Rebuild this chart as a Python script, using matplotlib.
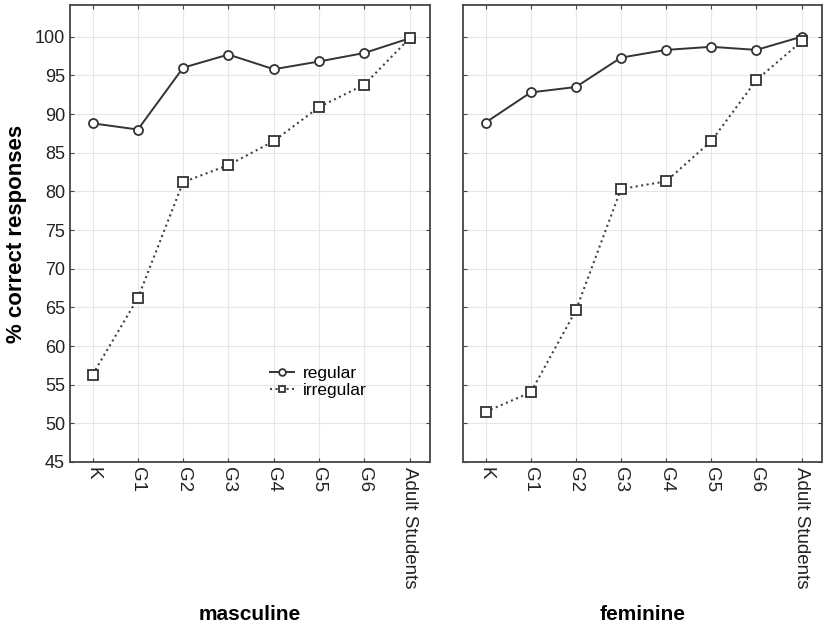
import numpy as np
import matplotlib
matplotlib.use('Agg')
import matplotlib.pyplot as plt

plt.rcParams['font.family'] = ['Liberation Sans', 'DejaVu Sans']

#data
groups = ['K', 'G1', 'G2', 'G3', 'G4', 'G5', 'G6', 'Adult Students']
masc_regular = [88.8, 88.0, 96.0, 97.7, 95.8, 96.8, 97.9, 99.8]
masc_irregular = [56.3, 66.2, 81.2, 83.4, 86.5, 90.9, 93.8, 99.8]
fem_regular = [88.9, 92.8, 93.5, 97.3, 98.3, 98.7, 98.3, 100.0]
fem_irregular = [51.5, 54.0, 64.6, 80.3, 81.3, 86.5, 94.4, 99.4]
panel_titles = ['masculine', 'feminine']

fig = plt.figure(figsize=(8.23, 6.32), dpi=100)
ax1 = fig.add_axes([0.085, 0.269, 0.4374, 0.723])
ax2 = fig.add_axes([0.5626, 0.269, 0.436, 0.723])

x = np.arange(len(groups))
lc = '#333333'

for ax, reg, irr, title in [(ax1, masc_regular, masc_irregular, panel_titles[0]),
                             (ax2, fem_regular, fem_irregular, panel_titles[1])]:
    ax.plot(x, reg, '-', color=lc, lw=1.4, marker='o', ms=6.5,
            mfc='white', mec=lc, mew=1.3, label='regular')
    ax.plot(x, irr, ':', color='#444444', lw=1.5, marker='s', ms=6.5,
            mfc='white', mec=lc, mew=1.3, label='irregular')
    ax.set_xlim(-0.5, 7.45)
    ax.set_ylim(45, 104.1)
    ax.set_yticks(np.arange(45, 101, 5))
    ax.set_xticks(x)
    ax.set_xticklabels(groups, rotation=270, fontsize=13.5, color='#222222')
    ax.grid(True, color='#e6e6e6', lw=0.8)
    ax.set_axisbelow(True)
    ax.tick_params(direction='in', top=True, right=True, length=3, color='#444444')
    for s in ax.spines.values():
        s.set_color('#444444')
        s.set_linewidth(1.3)
    ax.set_xlabel(title, fontsize=15, fontweight='bold', labelpad=12)

ax1.tick_params(axis='y', labelsize=13, labelcolor='#222222')
ax2.set_yticklabels([])
ax1.set_ylabel('% correct responses', fontsize=16, fontweight='bold', labelpad=6)

leg = ax1.legend(loc='center', bbox_to_anchor=(0.69, 0.175), frameon=False,
                 fontsize=12.5, handlelength=1.4, handletextpad=0.5,
                 labelspacing=0.15, markerscale=0.75)

plt.savefig('out.png', dpi=100)
